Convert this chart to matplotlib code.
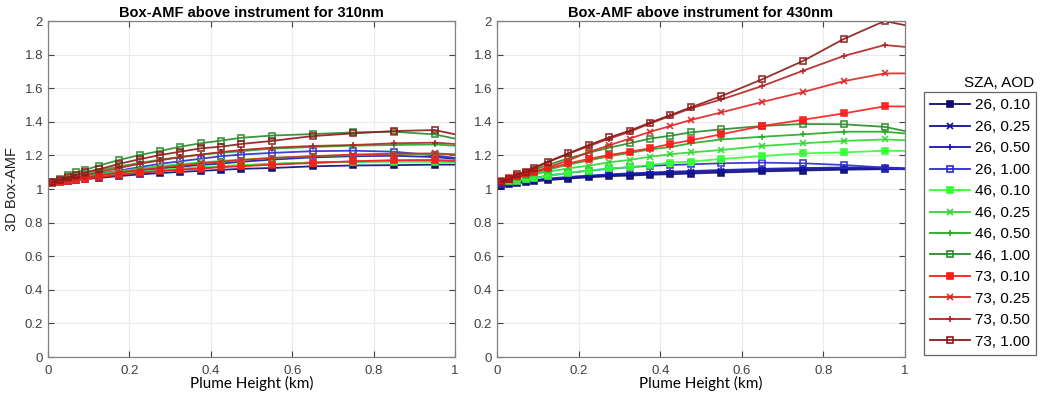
import matplotlib
matplotlib.use("Agg")
import matplotlib.pyplot as plt
from matplotlib.lines import Line2D

# plume heights (km); last point lies outside the axis and gets clipped
heights = [0.01, 0.03, 0.05, 0.07, 0.09, 0.125, 0.175, 0.225, 0.275, 0.325,
           0.375, 0.425, 0.475, 0.55, 0.65, 0.75, 0.85, 0.95, 1.05]

labels = ["26, 0.10", "26, 0.25", "26, 0.50", "26, 1.00",
          "46, 0.10", "46, 0.25", "46, 0.50", "46, 1.00",
          "73, 0.10", "73, 0.25", "73, 0.50", "73, 1.00"]

# Box-AMF at 310 nm
amf_310 = [
    [1.035, 1.040, 1.047, 1.053, 1.058, 1.066, 1.077, 1.087, 1.095, 1.102, 1.108, 1.114, 1.120, 1.125, 1.135, 1.140, 1.142, 1.145, 1.145],
    [1.035, 1.042, 1.050, 1.057, 1.063, 1.073, 1.086, 1.098, 1.108, 1.117, 1.125, 1.132, 1.140, 1.148, 1.158, 1.163, 1.165, 1.165, 1.160],
    [1.035, 1.043, 1.052, 1.060, 1.067, 1.079, 1.095, 1.110, 1.122, 1.133, 1.143, 1.152, 1.162, 1.175, 1.188, 1.195, 1.198, 1.190, 1.170],
    [1.035, 1.045, 1.055, 1.065, 1.075, 1.090, 1.110, 1.130, 1.150, 1.165, 1.180, 1.195, 1.205, 1.215, 1.225, 1.228, 1.222, 1.200, 1.170],
    [1.035, 1.043, 1.051, 1.058, 1.064, 1.075, 1.090, 1.102, 1.113, 1.122, 1.130, 1.137, 1.143, 1.150, 1.157, 1.162, 1.163, 1.162, 1.155],
    [1.037, 1.048, 1.058, 1.067, 1.075, 1.089, 1.106, 1.122, 1.136, 1.148, 1.158, 1.167, 1.175, 1.185, 1.195, 1.202, 1.207, 1.208, 1.200],
    [1.040, 1.055, 1.068, 1.080, 1.090, 1.110, 1.135, 1.155, 1.175, 1.190, 1.205, 1.215, 1.225, 1.240, 1.250, 1.258, 1.262, 1.265, 1.250],
    [1.040, 1.060, 1.083, 1.099, 1.113, 1.139, 1.173, 1.202, 1.226, 1.252, 1.272, 1.288, 1.305, 1.318, 1.327, 1.337, 1.341, 1.325, 1.275],
    [1.035, 1.040, 1.048, 1.055, 1.060, 1.070, 1.085, 1.097, 1.107, 1.115, 1.122, 1.130, 1.135, 1.145, 1.155, 1.165, 1.172, 1.173, 1.165],
    [1.035, 1.042, 1.052, 1.060, 1.067, 1.080, 1.098, 1.113, 1.127, 1.140, 1.152, 1.163, 1.172, 1.185, 1.195, 1.205, 1.210, 1.212, 1.200],
    [1.040, 1.050, 1.060, 1.070, 1.080, 1.100, 1.125, 1.150, 1.170, 1.190, 1.205, 1.220, 1.232, 1.246, 1.256, 1.262, 1.272, 1.276, 1.260],
    [1.040, 1.055, 1.070, 1.085, 1.100, 1.117, 1.150, 1.177, 1.202, 1.222, 1.242, 1.252, 1.268, 1.286, 1.315, 1.331, 1.345, 1.351, 1.300],
]

# Box-AMF at 430 nm
amf_430 = [
    [1.020, 1.028, 1.035, 1.040, 1.045, 1.053, 1.062, 1.070, 1.076, 1.080, 1.085, 1.088, 1.092, 1.098, 1.105, 1.110, 1.115, 1.118, 1.118],
    [1.022, 1.031, 1.038, 1.044, 1.049, 1.058, 1.067, 1.075, 1.082, 1.087, 1.092, 1.096, 1.100, 1.106, 1.113, 1.118, 1.122, 1.122, 1.118],
    [1.025, 1.035, 1.042, 1.048, 1.053, 1.062, 1.072, 1.080, 1.087, 1.093, 1.098, 1.103, 1.107, 1.113, 1.120, 1.125, 1.128, 1.128, 1.120],
    [1.030, 1.043, 1.050, 1.058, 1.065, 1.080, 1.095, 1.110, 1.120, 1.130, 1.138, 1.143, 1.147, 1.153, 1.157, 1.153, 1.143, 1.127, 1.107],
    [1.040, 1.045, 1.050, 1.058, 1.065, 1.077, 1.097, 1.109, 1.123, 1.129, 1.143, 1.157, 1.163, 1.179, 1.196, 1.212, 1.218, 1.228, 1.225],
    [1.045, 1.053, 1.063, 1.075, 1.085, 1.103, 1.123, 1.139, 1.159, 1.173, 1.192, 1.207, 1.218, 1.232, 1.256, 1.272, 1.286, 1.295, 1.285],
    [1.045, 1.055, 1.066, 1.080, 1.093, 1.115, 1.145, 1.170, 1.195, 1.215, 1.235, 1.250, 1.272, 1.295, 1.311, 1.325, 1.341, 1.341, 1.320],
    [1.050, 1.060, 1.077, 1.095, 1.113, 1.143, 1.183, 1.216, 1.246, 1.272, 1.300, 1.317, 1.337, 1.355, 1.375, 1.387, 1.385, 1.370, 1.320],
    [1.043, 1.063, 1.079, 1.095, 1.103, 1.123, 1.153, 1.179, 1.202, 1.222, 1.242, 1.268, 1.290, 1.326, 1.375, 1.412, 1.450, 1.492, 1.490],
    [1.040, 1.055, 1.070, 1.085, 1.100, 1.130, 1.170, 1.220, 1.260, 1.300, 1.340, 1.375, 1.411, 1.456, 1.518, 1.577, 1.642, 1.688, 1.688],
    [1.040, 1.055, 1.085, 1.100, 1.120, 1.160, 1.210, 1.255, 1.300, 1.340, 1.390, 1.435, 1.480, 1.533, 1.613, 1.704, 1.792, 1.857, 1.835],
    [1.043, 1.058, 1.087, 1.103, 1.127, 1.163, 1.212, 1.262, 1.307, 1.347, 1.395, 1.440, 1.486, 1.553, 1.653, 1.762, 1.893, 2.000, 1.950],
]

colors = ["#0b0b6e", "#10108f", "#1515b0", "#2b2bd0",
          "#33ff33", "#2ed62e", "#22aa22", "#2a8a2a",
          "#ff1a1a", "#dd2222", "#b22222", "#8b1a1a"]
markers = ["s", "x", "+", "s"] * 3
filled = [True, False, False, False] * 3

tick_color = "#404040"

fig = plt.figure(figsize=(10.4, 4.01), dpi=100)
ax1 = fig.add_axes([48 / 1040, 44 / 401, 407 / 1040, 336 / 401])
ax2 = fig.add_axes([497 / 1040, 44 / 401, 408 / 1040, 336 / 401])


def draw(ax, data, wl):
    for vals, c, m, f, lab in zip(data, colors, markers, filled, labels):
        ax.plot(heights, vals, color=c, lw=1.3, marker=m, ms=4 if m == "s" else 5,
                mfc=c if f else "none", mew=1.2, label=lab, alpha=0.9)
    ax.set_xlim(0, 1)
    ax.set_ylim(0, 2)
    ax.set_xticks([0, 0.2, 0.4, 0.6, 0.8, 1])
    ax.set_xticklabels(["0", "0.2", "0.4", "0.6", "0.8", "1"])
    ax.set_yticks([0, 0.2, 0.4, 0.6, 0.8, 1, 1.2, 1.4, 1.6, 1.8, 2])
    ax.set_yticklabels(["0", "0.2", "0.4", "0.6", "0.8", "1", "1.2", "1.4", "1.6", "1.8", "2"])
    ax.grid(True, color="#ebebeb", lw=0.8)
    ax.set_axisbelow(True)
    ax.tick_params(direction="in", top=True, right=True, length=4, width=0.8,
                   colors=tick_color, labelsize=9.5, labelcolor=tick_color)
    ax.tick_params(axis="x", pad=6)
    for lab in ax.get_xticklabels() + ax.get_yticklabels():
        lab.set_family("Liberation Sans")
    for s in ax.spines.values():
        s.set_color("#808080")
        s.set_linewidth(0.9)
    ax.set_title(f"Box-AMF above instrument for {wl}nm", fontsize=10.5,
                 fontweight="bold", family="Liberation Sans", pad=3)
    ax.set_xlabel("Plume Height (km)", fontsize=11, family="Lato", labelpad=-1)


draw(ax1, amf_310, 310)
draw(ax2, amf_430, 430)
ax1.set_ylabel("3D Box-AMF", fontsize=10.5, family="Liberation Sans", labelpad=4, color="#202020")

handles = [Line2D([], [], color=c, lw=1.3, marker=m, ms=4 if m == "s" else 5,
                  mfc=c if f else "none", mew=1.2)
           for c, m, f in zip(colors, markers, filled)]
leg = fig.legend(handles, labels, loc="upper left", bbox_to_anchor=(924 / 1040, 1 - 92 / 401),
                 frameon=True, fancybox=False, edgecolor="#404040",
                 handlelength=2.6, handletextpad=0.3, labelspacing=0.49,
                 borderpad=0.42, borderaxespad=0,
                 prop={"family": "Liberation Sans", "size": 11})
leg.get_frame().set_linewidth(0.9)
fig.text(1034 / 1040, 1 - 83 / 401, "SZA, AOD", ha="right", va="center",
         fontsize=11, family="Liberation Sans")

fig.savefig("out.png", dpi=100)
